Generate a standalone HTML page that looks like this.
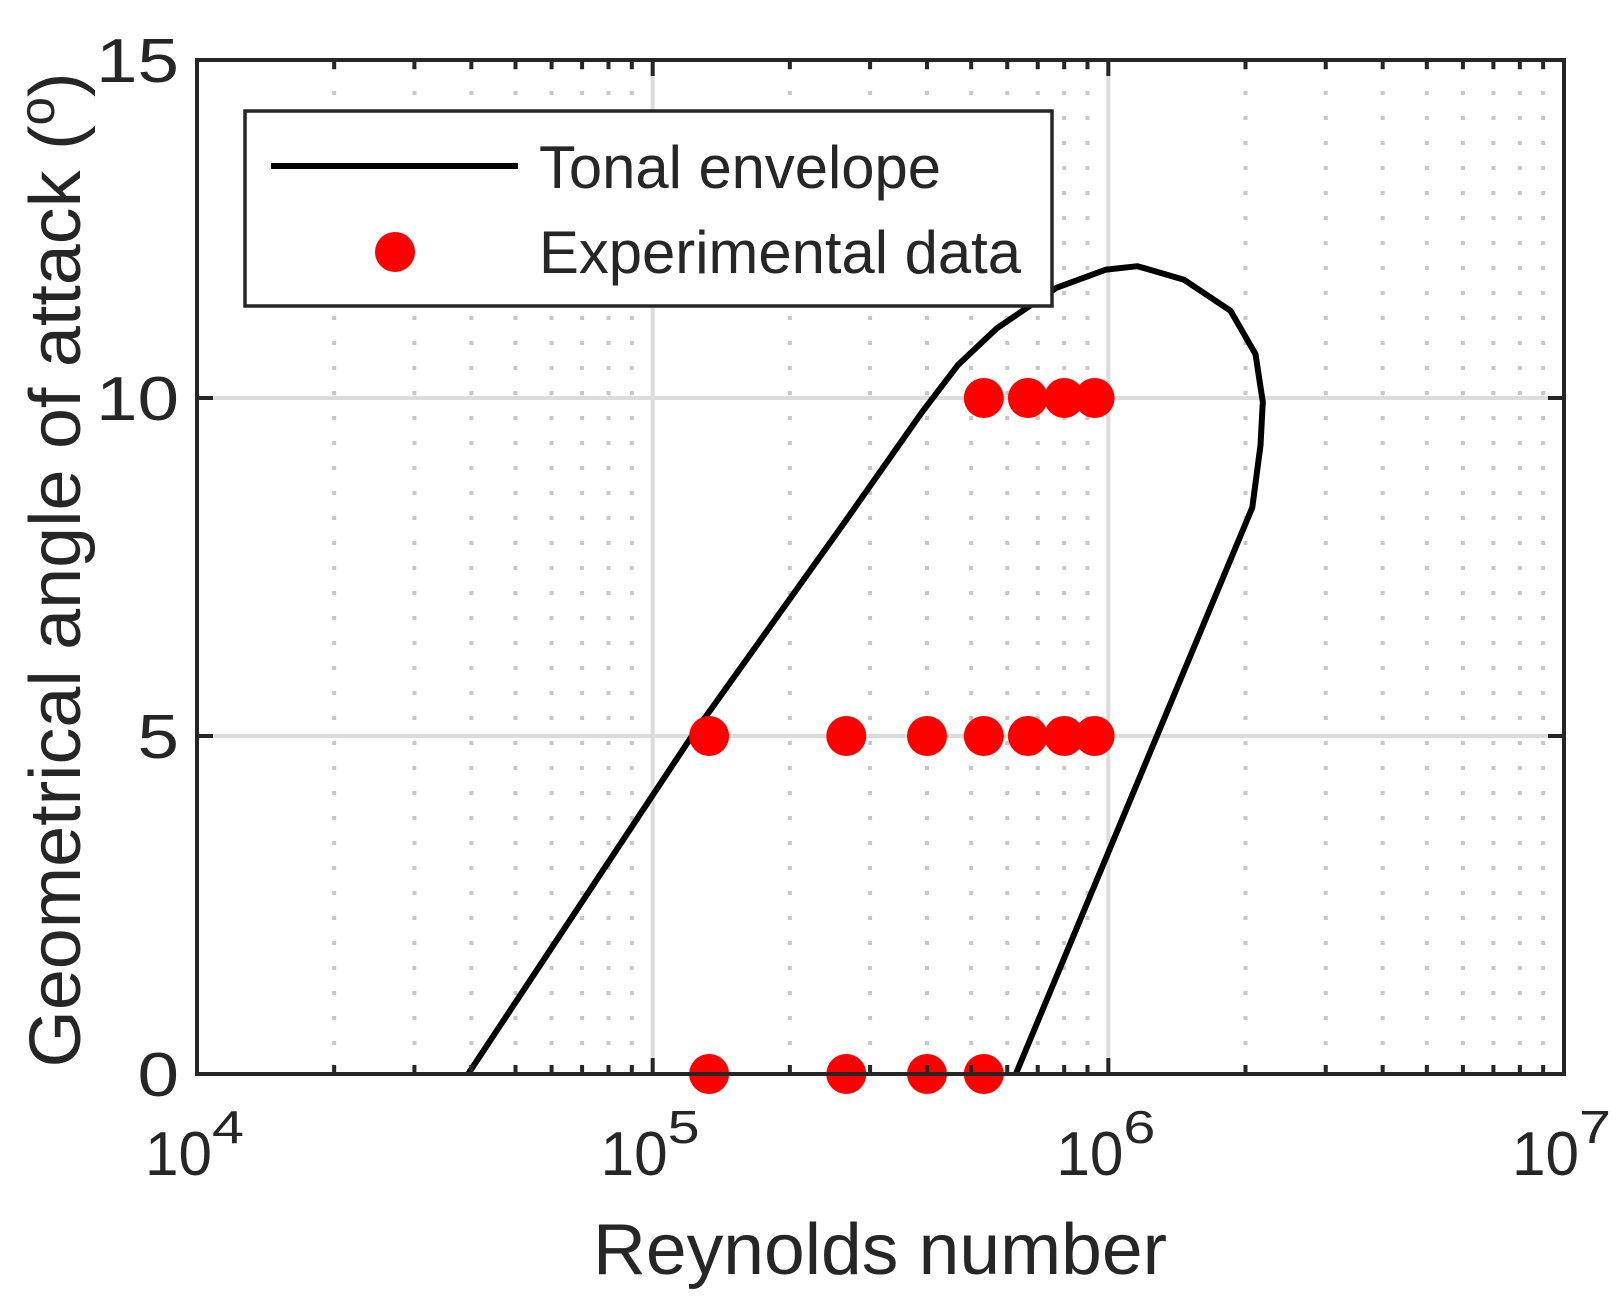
<!DOCTYPE html>
<html><head><meta charset="utf-8"><style>
html,body{margin:0;padding:0;background:#fff}
svg{display:block}
text{font-family:"Liberation Sans",Arial,sans-serif;fill:#262626}
</style></head><body>
<svg id="chart" width="1624" height="1314" viewBox="0 0 1624 1314" xmlns="http://www.w3.org/2000/svg">
<g id="grid"></g>
<g id="series"></g>
<g id="axes"></g>
<text x="880" y="1274" font-size="72" text-anchor="middle" textLength="574" lengthAdjust="spacingAndGlyphs">Reynolds number</text>
<text transform="translate(80,570) rotate(-90)" font-size="72" text-anchor="middle" textLength="995" lengthAdjust="spacingAndGlyphs">Geometrical angle of attack (<tspan dy="-26" font-size="50">o</tspan><tspan dy="26">)</tspan></text>
<g>
<rect x="245" y="111" width="807" height="195" fill="#fff" stroke="#262626" stroke-width="3.5"/>
<line x1="271" y1="166" x2="518" y2="166" stroke="#000" stroke-width="6"/>
<text x="539" y="188" font-size="60" textLength="402" lengthAdjust="spacingAndGlyphs">Tonal envelope</text>
<circle cx="395" cy="252" r="20" fill="#ff0000"/>
<text x="539" y="273" font-size="60" textLength="482" lengthAdjust="spacingAndGlyphs">Experimental data</text>
</g>
</svg>
<script>
const xTickExps = [4, 5, 6, 7];
const yTicks = [0, 5, 10, 15];
const envLogRe = [4.595, 5.086, 5.420, 5.591, 5.67, 5.755, 5.886, 5.995, 6.064, 6.166, 6.268, 6.323, 6.339, 6.334, 6.316, 5.797];
const envAoa = [0, 5, 8.15, 9.79, 10.49, 11.03, 11.63, 11.9, 11.95, 11.75, 11.29, 10.65, 9.94, 9.30, 8.38, 0];
const expRe = [1.33e5, 2.66e5, 4e5, 5.33e5, 1.33e5, 2.66e5, 4e5, 5.33e5, 6.66e5, 8e5, 9.33e5, 5.33e5, 6.66e5, 8e5, 9.33e5];
const expAoa = [0, 0, 0, 0, 5, 5, 5, 5, 5, 5, 5, 10, 10, 10, 10];

const L = 197, R = 1564, T = 60, B = 1074;
const NS = "http://www.w3.org/2000/svg";
function sx(logv) { return L + (logv - 4) / 3 * (R - L); }
function sy(v) { return B - v / 15 * (B - T); }
function mk(tag, attrs, parent) {
  const e = document.createElementNS(NS, tag);
  for (const k in attrs) e.setAttribute(k, attrs[k]);
  parent.appendChild(e);
  return e;
}
const grid = document.getElementById('grid');
const axes = document.getElementById('axes');
const series = document.getElementById('series');

for (let d = 4; d < 7; d++) {
  for (let m = 2; m <= 9; m++) {
    const x = sx(d + Math.log10(m));
    const g = mk('line', {x1: x, y1: T, x2: x, y2: B, stroke: '#c8c8c8', 'stroke-width': 4, 'stroke-dasharray': '4 21', 'stroke-dashoffset': '-6'}, grid);
    
    
    const t1 = mk('line', {x1: x, y1: B, x2: x, y2: B - 9, stroke: '#262626', 'stroke-width': 4}, axes);
    
    
    const t2 = mk('line', {x1: x, y1: T, x2: x, y2: T + 9, stroke: '#262626', 'stroke-width': 4}, axes);
    
    
  }
}
xTickExps.forEach(e => {
  const x = sx(e);
  const g = mk('line', {x1: x, y1: T, x2: x, y2: B, stroke: '#dcdcdc', 'stroke-width': 4}, grid);
  
  
  const t = mk('line', {x1: x, y1: B, x2: x, y2: B - 16, stroke: '#262626', 'stroke-width': 4}, axes);
  
  
  const t2 = mk('line', {x1: x, y1: T, x2: x, y2: T + 16, stroke: '#262626', 'stroke-width': 4}, axes);
  
  
  const lab = mk('text', {x: x - 52, y: 1175, 'font-size': 62}, axes);
  
  
  lab.innerHTML = '<tspan textLength="67" lengthAdjust="spacingAndGlyphs">10</tspan><tspan dy="-32" font-size="46" textLength="32" lengthAdjust="spacingAndGlyphs">' + e + '</tspan>';
});
yTicks.forEach(v => {
  const y = sy(v);
  if (v > 0 && v < 15) {
    const g = mk('line', {x1: L, y1: y, x2: R, y2: y, stroke: '#dcdcdc', 'stroke-width': 4}, grid);
    
    
  }
  const t = mk('line', {x1: L, y1: y, x2: L + 16, y2: y, stroke: '#262626', 'stroke-width': 4}, axes);
  
  
  const t2 = mk('line', {x1: R, y1: y, x2: R - 16, y2: y, stroke: '#262626', 'stroke-width': 4}, axes);
  
  
  const s = String(v);
  const w = s.length * 41.5;
  const lab = mk('text', {x: 179 - w, y: y + 22, 'font-size': 62, textLength: w, lengthAdjust: 'spacingAndGlyphs'}, axes);
  
  
  lab.textContent = s;
});
const frame = mk('rect', {x: L, y: T, width: R - L, height: B - T, fill: 'none', stroke: '#262626', 'stroke-width': 4}, axes);



const pts = envLogRe.map((lr, i) => sx(lr).toFixed(1) + ',' + sy(envAoa[i]).toFixed(1)).join(' ');
const pl = mk('polyline', {points: pts, fill: 'none', stroke: '#000', 'stroke-width': 6, 'stroke-linejoin': 'round'}, series);


expRe.forEach((re, i) => {
  const c = mk('circle', {cx: sx(Math.log10(re)), cy: sy(expAoa[i]), r: 20, fill: '#ff0000'}, series);
  
  
});
</script>
</body></html>
